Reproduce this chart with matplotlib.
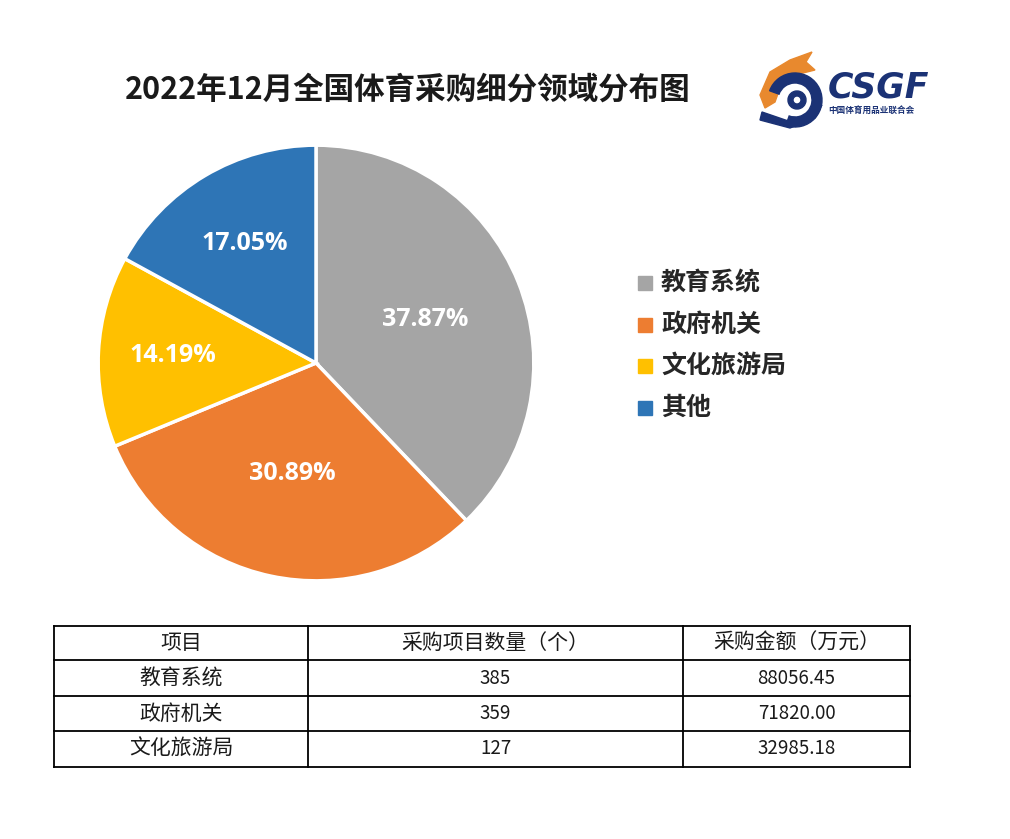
import numpy as np
import matplotlib.pyplot as plt
from matplotlib.patches import Rectangle, Wedge, Polygon

plt.rcParams['font.family'] = ['Noto Sans CJK SC', 'DejaVu Sans']

title = '2022年12月全国体育采购细分领域分布图'
categories = ['教育系统', '政府机关', '文化旅游局', '其他']
shares = [37.87, 30.89, 14.19, 17.05]
colors = ['#A5A5A5', '#ED7D31', '#FFC000', '#2E75B6']

table_header = ['项目', '采购项目数量（个）', '采购金额（万元）']
table_names = ['教育系统', '政府机关', '文化旅游局']
table_counts = ['385', '359', '127']
table_amounts = ['88056.45', '71820.00', '32985.18']

W, H = 1010, 839
fig = plt.figure(figsize=(W / 100, H / 100), dpi=100)

# background axes in pixel coordinates (y down)
bg = fig.add_axes([0, 0, 1, 1])
bg.set_xlim(0, W)
bg.set_ylim(H, 0)
bg.axis('off')

bg.text(408, 90, title, fontsize=22, fontweight='bold', ha='center', va='center', color='#1a1a1a')

# pie
cx, cy, r = 316, 363, 220
pax = fig.add_axes([(cx - r) / W, (H - cy - r) / H, 2 * r / W, 2 * r / H])
wedges, texts, autotexts = pax.pie(
    shares, colors=colors, startangle=90, counterclock=False,
    autopct='%.2f%%', pctdistance=0.53,
    wedgeprops=dict(edgecolor='white', linewidth=2.5),
    textprops=dict(color='white', fontsize=18, fontweight='bold', family=['Open Sans']))
# labels placed like excel's best fit
label_dist = [0.54, 0.52, 0.66, 0.64]
for w, t, d in zip(wedges, autotexts, label_dist):
    a = np.deg2rad((w.theta1 + w.theta2) / 2)
    t.set_position((d * np.cos(a), d * np.sin(a)))
pax.set_xlim(-1.01, 1.01)
pax.set_ylim(-1.01, 1.01)
pax.set_aspect('equal')

# legend
for i, (name, c) in enumerate(zip(categories, colors)):
    y = 283 + i * 41.5
    bg.add_patch(Rectangle((638, y - 7), 14, 14, color=c))
    bg.text(661, y, name, fontsize=18, fontweight='bold', va='center', color='#262626')

# table
col_x = [54, 308, 683, 910]
row_y = [626, 660, 696, 731, 767]
for x in col_x:
    bg.plot([x, x], [row_y[0], row_y[-1]], color='black', lw=1.3)
for y in row_y:
    bg.plot([col_x[0], col_x[-1]], [y, y], color='black', lw=1.3)
rows = [table_header] + [list(t) for t in zip(table_names, table_counts, table_amounts)]
for ri, row in enumerate(rows):
    yc = (row_y[ri] + row_y[ri + 1]) / 2
    for ci, val in enumerate(row):
        xc = (col_x[ci] + col_x[ci + 1]) / 2
        fs = 13.5 if val.replace('.', '').isdigit() else 15
        bg.text(xc, yc, val, fontsize=fs, ha='center', va='center', color='#1a1a1a')

# logo
navy = '#1B3275'
orange = '#E8892E'
bg.add_patch(Polygon([(760, 95), (770, 72), (790, 60), (812, 52), (806, 62), (815, 70),
                      (795, 75), (780, 88), (775, 102), (765, 108)], closed=True, color=orange))
bg.add_patch(Wedge((795, 100), 27, 200, 470, width=10, color=navy))
bg.add_patch(Wedge((797, 100), 9, 0, 360, width=5, color=navy))
bg.add_patch(Polygon([(760, 120), (790, 128), (815, 118), (822, 105), (800, 125), (762, 112)],
                     closed=True, color=navy))
bg.text(828, 88, 'CSGF', fontsize=25, fontweight='bold', fontstyle='italic',
        family=['DejaVu Sans'], color=navy, va='center', ha='left')
bg.text(828, 110, '中国体育用品业联合会', fontsize=6.2, fontweight='bold', color=navy,
        va='center', ha='left')

fig.savefig('out.png', dpi=100)
